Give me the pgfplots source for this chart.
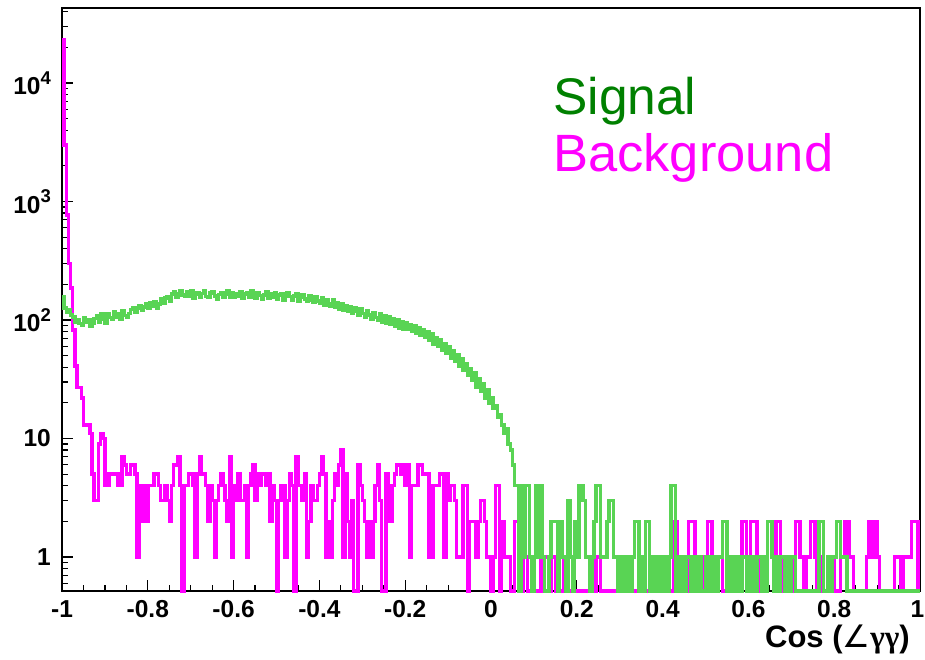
\documentclass[border=0pt]{standalone}
\usepackage{pgfplots}
\pgfplotsset{compat=1.18}
\usepackage{pgfplotstable}
\usepackage{fontspec}
\setmainfont{Liberation Sans}
\newfontfamily\symfont{DejaVu Sans}
\newfontfamily\greekfont{Liberation Serif}

\definecolor{sigline}{RGB}{89,212,84}
\definecolor{sigtext}{RGB}{0,128,0}
\definecolor{bkgline}{RGB}{255,0,255}

\newcommand\tenpow[1]{10\raisebox{0.42em}{\fontsize{18.5}{18.5}\selectfont #1}}

% Counts per bin (b = background, s = signal), 400 bins of width 0.005 on [-1,1].
% The last row repeats the last bin so that the step reaches x = 1.
\pgfplotstableread{
b s
23000 157
3000 126
770 117
300 121
186 110
82 106
41 95
27 101
27 93
22 90
13 105
13 95
13 100
11 88
5 94
3 103
3 109
9 96
11 112
10 102
4 94
4 114
5 105
5 101
5 117
5 106
4 113
4 102
7 120
6 109
5 105
5 114
6 123
6 128
5 116
1 126
4 133
2 120
4 129
2 137
4 125
4 139
4 130
5 143
5 126
4 137
3 150
3 138
4 153
3 158
2 145
4 166
6 174
6 155
7 168
4 176
0 162
4 158
4 172
5 160
5 175
4 154
1 166
5 171
7 157
5 168
5 177
4 158
2 155
4 169
3 174
1 160
3 151
4 164
5 171
4 156
3 166
2 176
7 157
1 169
4 155
3 168
5 160
3 173
3 152
4 165
1 171
4 157
5 176
6 163
3 154
5 170
4 161
5 150
5 163
4 172
5 153
2 166
4 156
3 170
0 150
3 163
4 168
4 148
1 160
3 169
5 158
4 146
0 160
7 165
4 145
4 157
3 163
5 150
1 143
2 161
4 148
3 141
3 157
4 145
5 139
7 153
5 134
1 148
2 138
1 131
3 147
5 128
4 141
6 124
8 138
1 121
5 133
2 118
1 130
3 113
0 126
0 118
6 109
4 124
3 113
2 105
1 120
2 110
1 102
2 116
4 105
6 99
3 112
0 96
0 108
5 94
4 106
2 92
4 103
5 89
6 100
6 86
5 97
6 84
4 95
6 83
1 92
4 80
4 89
4 77
6 86
6 74
5 83
5 71
5 79
1 67
1 76
4 63
4 71
4 60
5 68
5 56
1 63
5 52
3 59
4 48
4 55
3 45
1 51
1 41
1 47
4 38
4 43
0 34
2 39
2 31
2 36
1 27
2 32
3 25
3 29
2 22
1 26
1 20
0 22
1 18
4 19
4 15
0 16
2 13
1 11
1 12
1 9
0 8
0 6
2 4
2 4
2 0
0 4
2 1
1 4
0 4
0 1
1 0
0 1
0 4
0 1
1 4
0 1
1 0
1 0
0 1
1 2
1 2
0 2
0 0
0 2
0 1
1 1
1 0
0 3
0 1
0 0
0 2
0 1
0 4
0 4
0 3
0 1
0 1
0 0
0 1
0 2
1 4
1 4
0 1
0 1
0 1
0 2
0 3
0 3
0 1
0 1
0 0
0 1
0 0
1 1
0 0
0 1
0 0
0 1
0 2
0 2
0 0
1 1
0 0
0 2
0 2
0 0
0 1
0 0
0 1
1 0
0 1
0 0
0 1
0 0
0 1
0 4
2 4
2 0
1 1
1 0
0 1
0 0
0 1
2 1
2 0
2 1
1 0
1 1
1 1
1 0
0 0
0 1
2 0
2 1
1 0
0 1
0 0
1 1
1 1
0 2
0 2
0 0
0 1
1 0
1 1
0 0
0 1
0 0
2 1
2 1
1 0
1 1
2 0
2 1
2 0
1 1
0 1
0 0
1 1
1 0
2 2
2 2
2 1
1 0
2 1
2 0
1 1
0 1
1 0
1 1
0 0
0 1
1 1
2 0
2 0
1 0
1 0
0 0
1 0
1 0
2 0
2 0
1 0
0 0
0 2
1 2
0 0
0 0
1 1
1 0
1 1
0 1
0 2
0 2
1 1
1 1
2 1
2 0
1 0
1 0
0 0
0 0
0 0
0 0
0 0
0 0
1 0
2 0
1 0
2 0
2 0
1 0
0 0
0 0
0 0
0 0
0 0
0 0
0 0
1 0
1 0
1 0
0 0
1 0
1 0
1 0
1 0
2 0
2 0
2 0
0 0
0 0
}\histtable

\begin{document}
\begin{tikzpicture}
\useasboundingbox (0,0) rectangle (925pt,659pt);
\begin{axis}[
  at={(62pt,68pt)}, anchor=south west,
  scale only axis, width=858pt, height=583pt,
  xmin=-1, xmax=1, ymin=0.516, ymax=43000,
  ymode=log,
  clip=false,
  axis line style={line width=1.5pt},
  tick align=inside, xtick pos=bottom, ytick pos=left,
  xtick={-1,-0.8,-0.6,-0.4,-0.2,0,0.2,0.4,0.6,0.8,1},
  xticklabels={-1,-0.8,-0.6,-0.4,-0.2,0,0.2,0.4,0.6,0.8,\hspace*{-5pt}1},
  minor x tick num=3,
  ytick={1,10,100,1000,10000},
  yticklabels={1,10,\tenpow{2},\tenpow{3},\tenpow{4}},
  minor ytick={0.6,0.7,0.8,0.9,2,3,4,5,6,7,8,9,20,30,40,50,60,70,80,90,200,300,400,500,600,700,800,900,2000,3000,4000,5000,6000,7000,8000,9000,20000,30000,40000},
  major tick length=11pt, minor tick length=6pt,
  every tick/.style={black, line width=1.2pt},
  ticklabel style={font=\fontsize{24.5}{24.5}\selectfont\bfseries, inner sep=0pt},
  xticklabel style={anchor=north, yshift=-9pt},
  yticklabel style={anchor=east, xshift=-11pt},
]
\addplot[bkgline, line width=3.5pt, line join=miter, const plot]
  table[x expr={-1+0.005*\coordindex}, y expr={max(\thisrow{b},0.516)}] {\histtable};
\addplot[sigline, line width=3.5pt, line join=miter, const plot]
  table[x expr={-1+0.005*\coordindex}, y expr={max(\thisrow{s},0.516)}] {\histtable};
\node[anchor=base west, inner sep=0pt, text=sigtext, font=\fontsize{51.5}{51.5}\selectfont]
  at (axis description cs:0.5723,0.8165) {Signal};
\node[anchor=base west, inner sep=0pt, text=bkgline, font=\fontsize{52.5}{52.5}\selectfont]
  at (axis description cs:0.5723,0.7187) {Background};
\node[anchor=base east, inner sep=0pt, font=\fontsize{31}{31}\selectfont]
  at (axis description cs:0.9883,-0.0961) {\bfseries Cos ({\symfont\mdseries ∠}{\greekfont γγ})};
\end{axis}
\end{tikzpicture}
\end{document}
